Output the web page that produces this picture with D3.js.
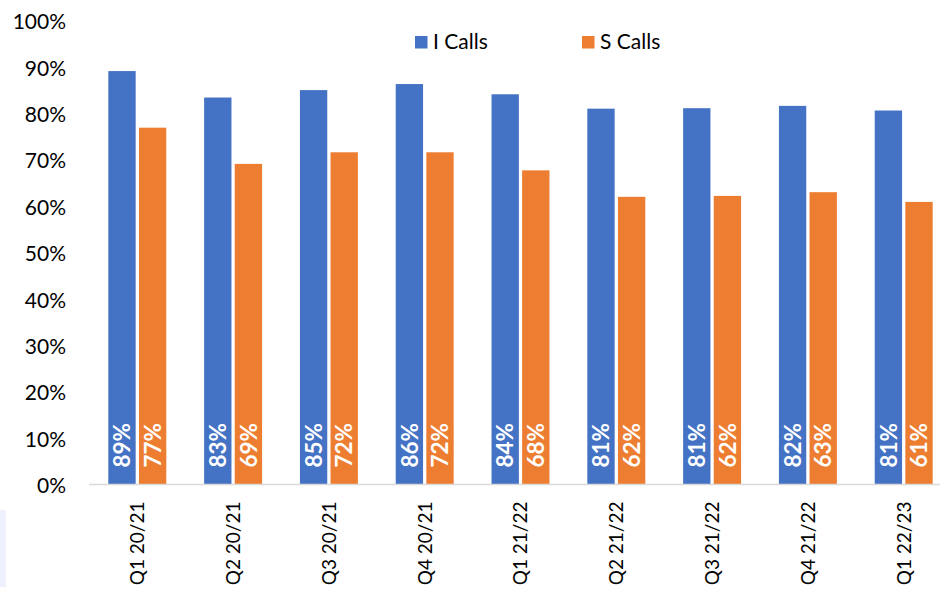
<!DOCTYPE html>
<html>
<head>
<meta charset="utf-8">
<script src="https://cdn.jsdelivr.net/npm/d3@7"></script>
<style>
  html, body { margin: 0; padding: 0; background: #fff; }
  svg { display: block; font-family: Lato, "Open Sans", sans-serif; }
</style>
</head>
<body>
<svg id="chart" width="940" height="591"></svg>
<script>
// Quarterly share of calls handled, two call types
const quarters = ["Q1 20/21", "Q2 20/21", "Q3 20/21", "Q4 20/21", "Q1 21/22",
                  "Q2 21/22", "Q3 21/22", "Q4 21/22", "Q1 22/23"];
const iCalls = [0.891, 0.834, 0.850, 0.863, 0.841, 0.810, 0.811, 0.816, 0.806];
const sCalls = [0.769, 0.691, 0.716, 0.716, 0.677, 0.620, 0.622, 0.630, 0.609];
const seriesNames = ["I Calls", "S Calls"];
const seriesColors = ["#4472C4", "#ED7D31"];
const yTicks = [0, 0.1, 0.2, 0.3, 0.4, 0.5, 0.6, 0.7, 0.8, 0.9, 1.0];

const svg = d3.select("#chart");
const W = 940, H = 591;

const rows = quarters.map((q, i) => ({ q, vals: [iCalls[i], sCalls[i]] }));

const x = d3.scaleBand().domain(quarters).range([89.4, 951.6])
  .paddingInner(0.395).paddingOuter(0.1975);
const xs = d3.scaleBand().domain(seriesNames).range([0, x.bandwidth()])
  .paddingInner(0.107);
const y = d3.scaleLinear().domain([0, 1]).range([484.5, 20.5]);
const color = d3.scaleOrdinal().domain(seriesNames).range(seriesColors);
const pct = d3.format(".0%");

// faint panel edge at lower left
svg.append("rect").attr("x", 0).attr("y", 510).attr("width", 6).attr("height", 77)
  .attr("fill", "#eef0fb");

// y axis labels (no line, no ticks)
const yAxis = d3.axisLeft(y).tickValues(yTicks).tickFormat(pct).tickSize(0).tickPadding(0);
const gy = svg.append("g").attr("transform", "translate(66,1.5)").call(yAxis);
gy.select(".domain").remove();
gy.selectAll("text").attr("font-size", 21).attr("fill", "#000")
  .attr("font-family", "Lato, sans-serif");

// bars
const groups = svg.append("g").selectAll("g").data(rows).join("g")
  .attr("transform", d => `translate(${x(d.q)},0)`);

groups.selectAll("rect").data(d => d.vals.map((v, k) => ({ k: seriesNames[k], v })))
  .join("rect")
  .attr("x", d => xs(d.k))
  .attr("y", d => y(d.v))
  .attr("width", xs.bandwidth())
  .attr("height", d => y(0) - y(d.v))
  .attr("fill", d => color(d.k));

// value labels inside the base of each bar
groups.selectAll("text.val").data(d => d.vals.map((v, k) => ({ k: seriesNames[k], v })))
  .join("text").attr("class", "val")
  .attr("transform", d => `translate(${xs(d.k) + xs.bandwidth() / 2},${y(0) - 17}) rotate(-90)`)
  .attr("dy", "0.36em")
  .attr("text-anchor", "start")
  .attr("font-size", 22.5).attr("font-weight", "bold").attr("fill", "#fff")
  .text(d => pct(d.v));

// x axis baseline and rotated category labels
const xAxis = d3.axisBottom(x).tickSize(0).tickPadding(0);
const gx = svg.append("g").attr("transform", `translate(0,${y(0)})`).call(xAxis);
gx.select(".domain").remove();
svg.append("line").attr("x1", 89).attr("x2", W).attr("y1", y(0)).attr("y2", y(0))
  .attr("stroke", "#d9d9d9").attr("stroke-width", 1.5);
gx.selectAll(".tick text")
  .attr("font-size", 19).attr("fill", "#000").attr("font-family", "Lato, sans-serif")
  .attr("text-anchor", "end")
  .attr("transform", "translate(0,17) rotate(-90)")
  .attr("x", 0).attr("y", 0).attr("dy", "0.36em");

// legend
const legendX = [415, 582];
const lg = svg.append("g").selectAll("g").data(seriesNames).join("g")
  .attr("transform", (d, i) => `translate(${legendX[i]},36)`);
lg.append("rect").attr("width", 12.5).attr("height", 12.5).attr("fill", d => color(d));
lg.append("text").attr("x", 18).attr("y", 12.5).attr("font-size", 21).attr("fill", "#000")
  .text(d => d);
</script>
</body>
</html>
